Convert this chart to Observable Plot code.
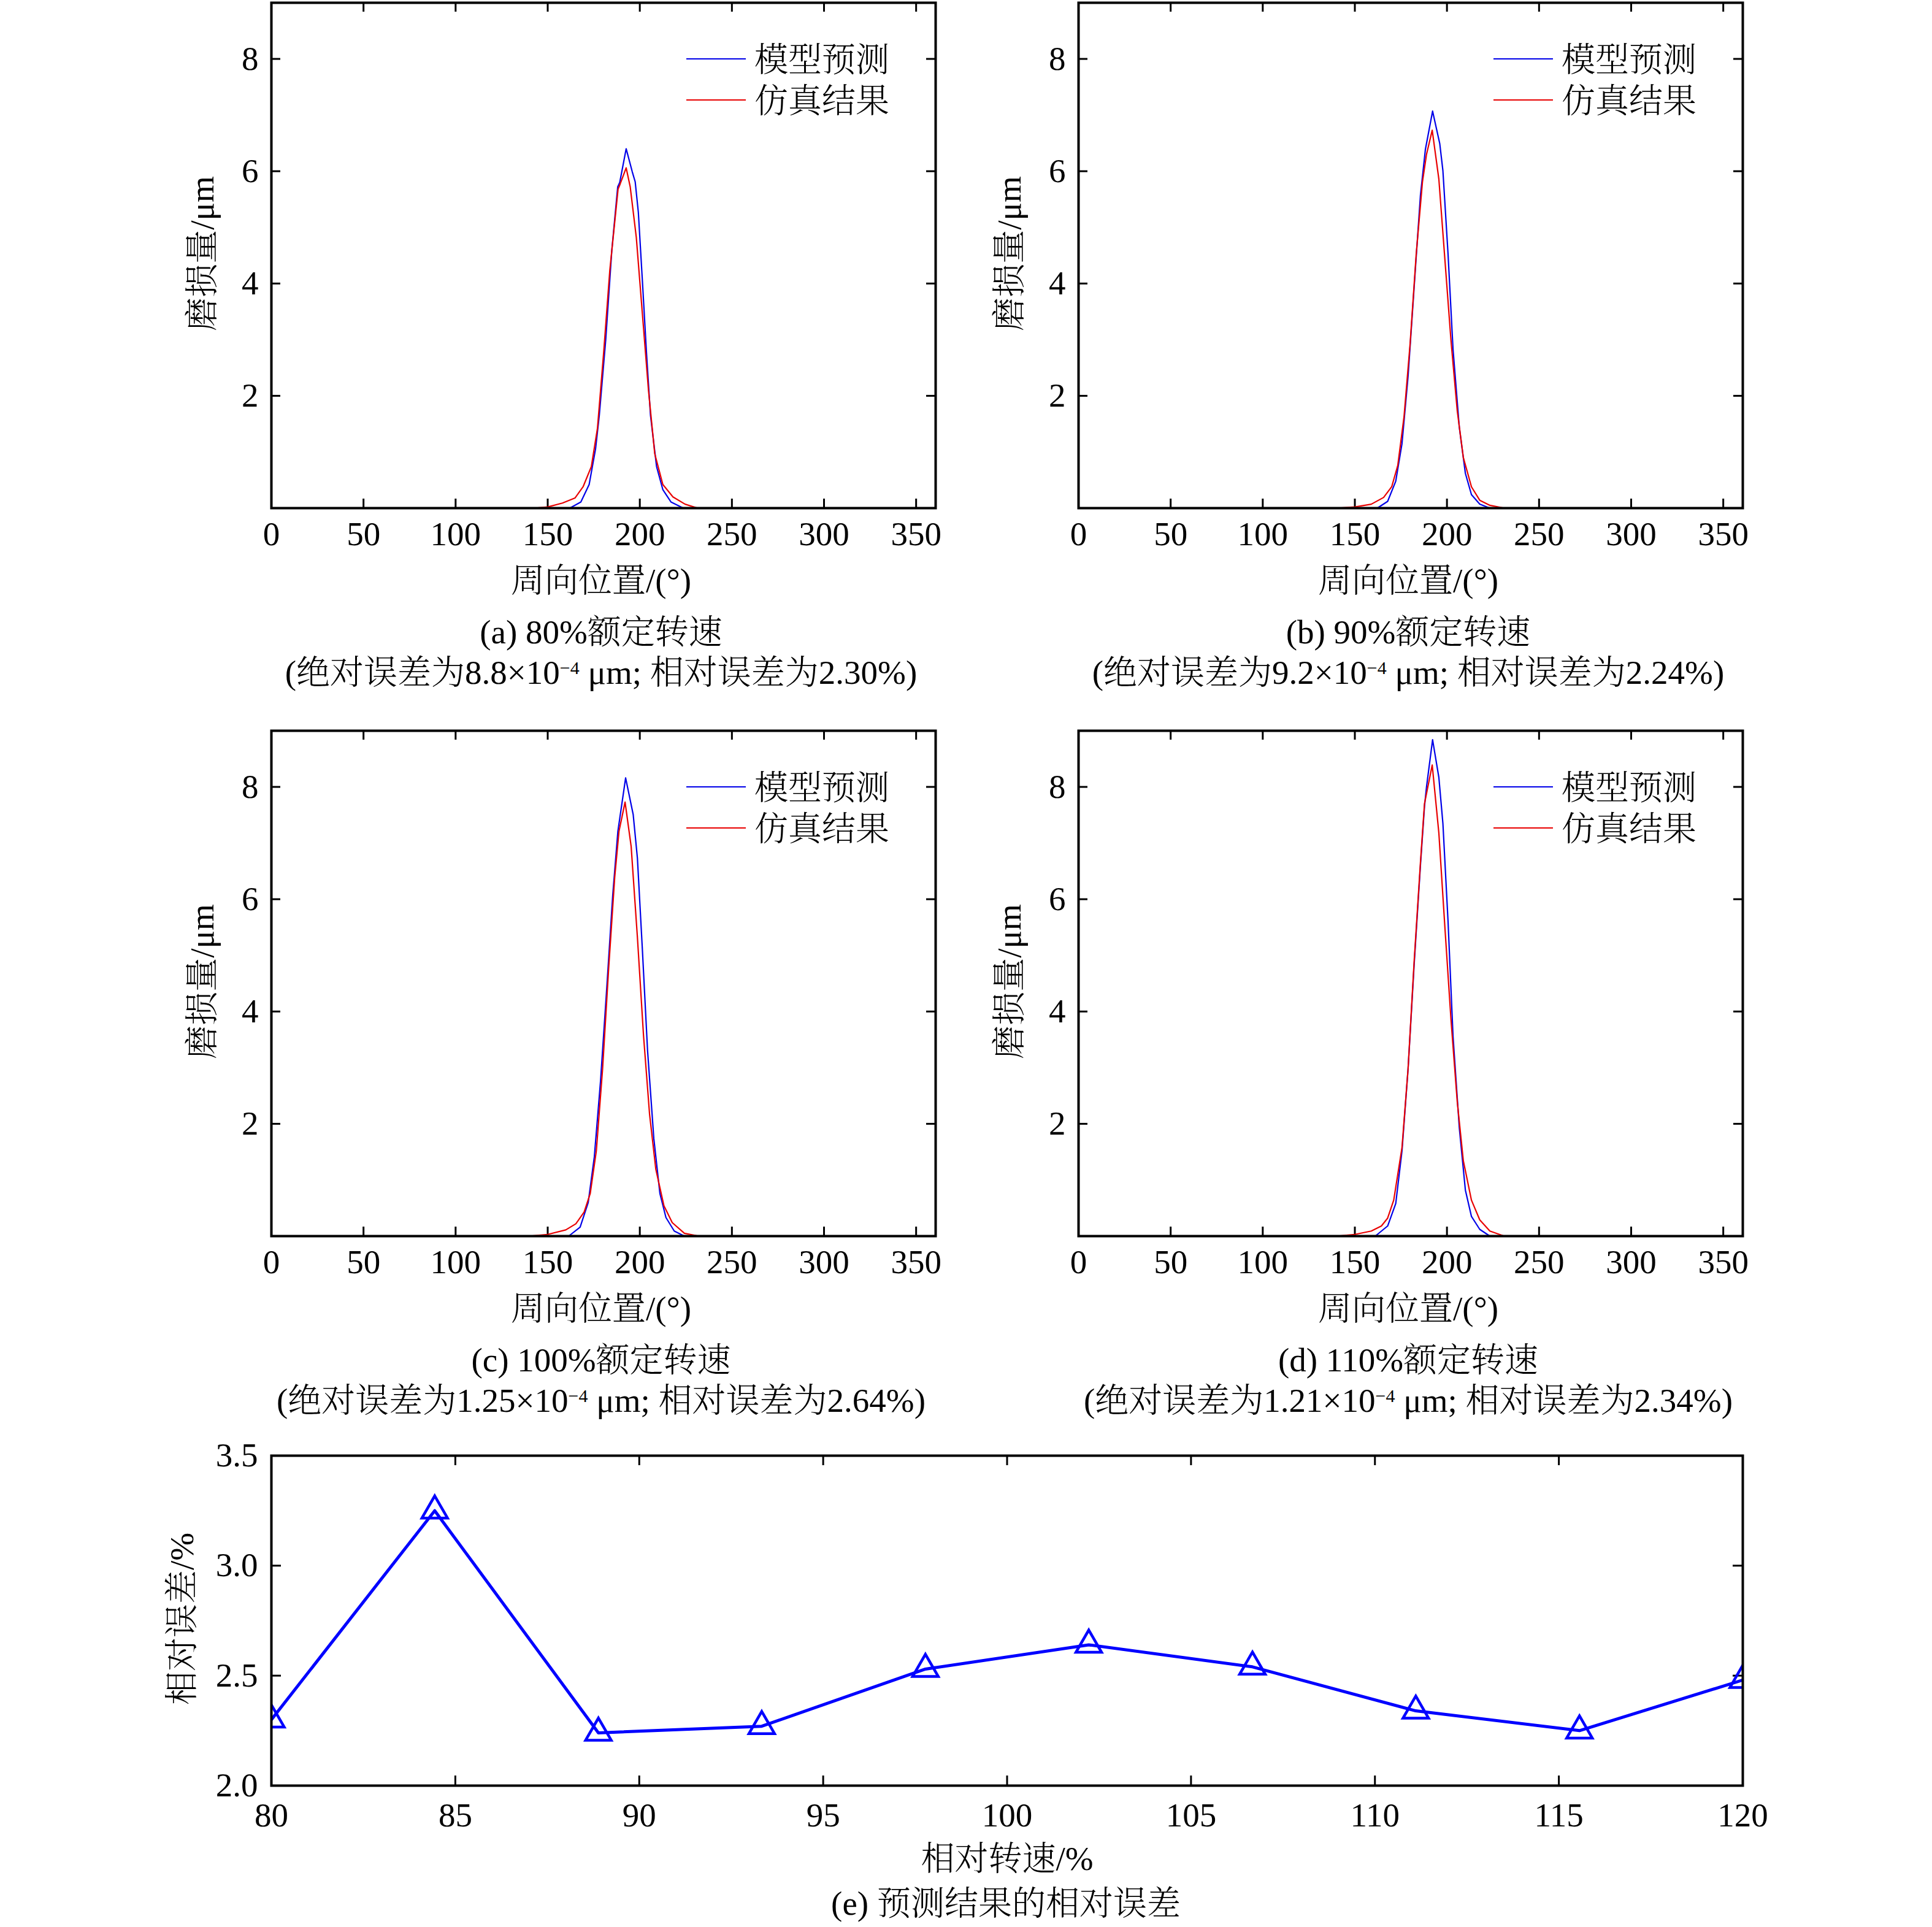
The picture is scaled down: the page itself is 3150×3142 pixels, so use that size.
<!DOCTYPE html>
<html>
<head>
<meta charset="utf-8">
<script src="https://cdn.jsdelivr.net/npm/d3@7"></script>
<script src="https://cdn.jsdelivr.net/npm/@observablehq/plot@0.6"></script>
<style>
  html, body { margin: 0; padding: 0; background: #fff; }
  #root { position: relative; width: 3150px; height: 3142px; overflow: hidden;
    font-family: "Liberation Serif", "Noto Serif CJK SC", "Noto Sans CJK SC", serif; font-weight: 300; color: #000; }
  .panel { position: absolute; }
  .cap { position: absolute; width: 1800px; height: 70px; line-height: 70px; text-align: center;
    font-size: 55px; white-space: nowrap; }
  .cap sup { font-size: 30px; position: relative; top: 12px; vertical-align: top; line-height: 1; }
</style>
</head>
<body>
<div id="root"></div>
<script>
// ---------------- data ----------------
// wear profiles: [circumferential position (deg), wear (um)]
const predA = [[162,0],[168,0.11],[172.5,0.42],[176,1.06],[178,1.65],[181.5,3.0],[184.8,4.59],[188,5.72],[189.1,5.8],[192.6,6.40],[195.9,5.99],[197.5,5.81],[199.2,5.27],[201.4,4.05],[203.6,2.78],[205.8,1.65],[209.1,0.74],[212.5,0.33],[216.9,0.11],[223.6,0]];
const simA  = [[142.5,0],[150,0.02],[158,0.09],[164.8,0.18],[169.2,0.38],[173.7,0.74],[177,1.42],[180.4,2.78],[183.7,4.23],[188.2,5.68],[189.3,5.77],[192.6,6.06],[194.8,5.72],[198.1,4.82],[201.4,3.46],[204.7,2.1],[208.1,0.97],[212.5,0.42],[218,0.2],[224.6,0.07],[231.4,0]];
const predB = [[162.2,0],[167.8,0.12],[172.2,0.48],[175.6,1.15],[178.9,2.35],[182.2,3.94],[185.6,5.57],[188.3,6.39],[192.2,7.07],[196.1,6.49],[197.8,6.01],[200.6,4.52],[203.3,2.83],[206.7,1.44],[210,0.62],[213.3,0.24],[217.8,0.07],[223.3,0]];
const simB  = [[140,0],[150,0.02],[158.9,0.07],[165.6,0.19],[170,0.38],[173.3,0.76],[176.7,1.63],[180,2.93],[183.3,4.52],[186.7,5.81],[188.9,6.30],[192,6.73],[195.6,5.86],[198.9,4.42],[202.2,2.98],[205.6,1.73],[208.9,0.90],[213.3,0.38],[217.8,0.14],[223.3,0.05],[231.1,0]];
const predC = [[161.4,0],[167.6,0.16],[172,0.60],[175.3,1.41],[178.7,2.77],[182,4.39],[185.3,6.07],[188.1,7.21],[192.3,8.16],[196.4,7.51],[198.7,6.73],[201.4,5.10],[204.2,3.31],[207.6,1.74],[210.9,0.76],[214.2,0.33],[218.7,0.09],[224.2,0]];
const simC  = [[139.8,0],[150,0.03],[159.8,0.11],[165.3,0.22],[169.8,0.43],[173.1,0.76],[176.4,1.52],[179.8,2.98],[183.1,4.77],[186.4,6.40],[188.7,7.21],[192,7.73],[195.3,6.94],[198.7,5.32],[202,3.58],[205.3,2.17],[208.7,1.19],[213.1,0.54],[217.6,0.24],[224.2,0.05],[232,0]];
const predD = [[161.1,0],[167.8,0.18],[172.2,0.58],[175.6,1.52],[178.9,2.98],[182.2,4.84],[185.6,6.60],[187.8,7.65],[188.9,8.0],[192.2,8.84],[195.6,8.17],[197.8,7.35],[200.6,5.60],[203.3,3.56],[206.7,1.93],[210,0.82],[213.3,0.35],[217.8,0.12],[223.3,0]];
const simD  = [[140,0],[150,0.03],[158.9,0.09],[164.4,0.18],[167.8,0.32],[171.1,0.64],[175.6,1.58],[178.9,2.98],[182.2,4.90],[185.6,6.65],[187.8,7.70],[192,8.39],[195.6,7.18],[198.9,5.49],[202.2,3.85],[205.6,2.39],[208.9,1.34],[213.3,0.64],[217.8,0.29],[223.3,0.09],[231.1,0]];

// relative error vs relative speed
const relSpeed = [80, 84.44, 88.89, 93.33, 97.78, 102.22, 106.67, 111.11, 115.56, 120];
const relError = [2.30, 3.25, 2.24, 2.27, 2.53, 2.64, 2.54, 2.34, 2.25, 2.48];

// ticks and labels
const wearXTicks = [0, 50, 100, 150, 200, 250, 300, 350];
const wearYTicks = [2, 4, 6, 8];
const errXTicks = [80, 85, 90, 95, 100, 105, 110, 115, 120];
const errYTicks = [2.0, 2.5, 3.0, 3.5];
const seriesNames = ["模型预测", "仿真结果"];
const wearXLabel = "周向位置/(°)";
const wearYLabel = "磨损量/μm";
const errXLabel = "相对转速/%";
const errYLabel = "相对误差/%";
const panelTitles = ["(a) 80%额定转速", "(b) 90%额定转速", "(c) 100%额定转速", "(d) 110%额定转速"];
const absErrMant = ["8.8", "9.2", "1.25", "1.21"];
const relErrText = ["2.30", "2.24", "2.64", "2.34"];
const errTitle = "(e) 预测结果的相对误差";

// ---------------- drawing ----------------
const FONT = '"Liberation Serif", "Noto Serif CJK SC", "Noto Sans CJK SC", serif';
const BLUE = "#0000e8", RED = "#e80000";
const root = document.getElementById("root");

function legendMark(colors) {
  return (index, scales, values, dimensions) => {
    const g = d3.create("svg:g");
    const right = dimensions.width - dimensions.marginRight;
    const top = dimensions.marginTop;
    seriesNames.forEach((name, i) => {
      const y = top + 92 + i * 67;
      g.append("line").attr("x1", right - 406).attr("x2", right - 309)
        .attr("y1", y).attr("y2", y).attr("stroke", colors[i]).attr("stroke-width", 2.2);
      g.append("text").attr("x", right - 295).attr("y", y).attr("dy", "0.36em")
        .attr("text-anchor", "start")
        .attr("fill", "black").style("font-size", "55px").text(name);
    });
    return g.node();
  };
}

function wearPanel(pred, sim, marginLeft, marginRight) {
  const plotW = 1083, plotH = 824, mT = 4, mB = 180;
  return Plot.plot({
    width: marginLeft + plotW + marginRight,
    height: mT + plotH + mB,
    marginLeft, marginRight, marginTop: mT, marginBottom: mB,
    style: { fontFamily: FONT, fontSize: "55px", fontWeight: 300, background: "transparent", overflow: "visible", color: "black" },
    x: { domain: [0, 360.6] },
    y: { domain: [0, 9] },
    marks: [
      Plot.ruleX(wearXTicks, { insetTop: plotH - 15, stroke: "black", strokeWidth: 3 }),
      Plot.ruleX(wearXTicks, { insetBottom: plotH - 15, stroke: "black", strokeWidth: 3 }),
      Plot.ruleY(wearYTicks, { insetRight: plotW - 15, stroke: "black", strokeWidth: 3 }),
      Plot.ruleY(wearYTicks, { insetLeft: plotW - 15, stroke: "black", strokeWidth: 3 }),
      Plot.line(pred, { x: d => d[0], y: d => d[1], stroke: BLUE, strokeWidth: 2.2 }),
      Plot.line(sim, { x: d => d[0], y: d => d[1], stroke: RED, strokeWidth: 2.2 }),
      Plot.frame({ stroke: "black", strokeWidth: 4 }),
      Plot.axisX(wearXTicks, { tickSize: 0, tickPadding: 21, label: null, fontSize: 55, tickFormat: d3.format("d") }),
      Plot.axisY(wearYTicks, { tickSize: 0, tickPadding: 21, label: null, fontSize: 55, tickFormat: d3.format("d") }),
      Plot.text([wearXLabel], { text: d => d, frameAnchor: "bottom", dy: 136, dx: -4, fontSize: 55 }),
      Plot.text([wearYLabel], { text: d => d, frameAnchor: "left", textAnchor: "middle", dx: -112, dy: -3, rotate: -90, fontSize: 55 }),
      legendMark([BLUE, RED])
    ]
  });
}

function place(node, left, top) {
  const div = document.createElement("div");
  div.className = "panel";
  div.style.left = left + "px";
  div.style.top = top + "px";
  div.appendChild(node);
  root.appendChild(div);
}

function caption(html, cx, cy) {
  const div = document.createElement("div");
  div.className = "cap";
  div.style.left = (cx - 900) + "px";
  div.style.top = (cy - 35) + "px";
  div.innerHTML = html;
  root.appendChild(div);
}

const panels = [
  { pred: predA, sim: simA, left: 0,    top: 0,    mL: 442, mR: 50,  cx: 980 },
  { pred: predB, sim: simB, left: 1575, top: 0,    mL: 183, mR: 309, cx: 2296 },
  { pred: predC, sim: simC, left: 0,    top: 1187, mL: 442, mR: 50,  cx: 980 },
  { pred: predD, sim: simD, left: 1575, top: 1187, mL: 183, mR: 309, cx: 2296 }
];
panels.forEach((p, i) => {
  place(wearPanel(p.pred, p.sim, p.mL, p.mR), p.left, p.top);
  caption(panelTitles[i], p.cx, p.top + 1031);
  caption(`(绝对误差为${absErrMant[i]}×10<sup>−4</sup> μm; 相对误差为${relErrText[i]}%)`, p.cx, p.top + 1097);
});

// relative error panel
const errData = relSpeed.map((s, i) => ({ speed: s, err: relError[i] }));
const eW = 2399, eH = 538, eT = 73, eB = 160;
const errPlot = Plot.plot({
  width: 3150, height: eT + eH + eB,
  marginLeft: 442, marginRight: 309, marginTop: eT, marginBottom: eB,
  style: { fontFamily: FONT, fontSize: "55px", fontWeight: 300, background: "transparent", overflow: "visible", color: "black" },
  x: { domain: [80, 120] },
  y: { domain: [2, 3.5] },
  marks: [
    Plot.ruleX(errXTicks, { insetTop: eH - 16, stroke: "black", strokeWidth: 3 }),
    Plot.ruleX(errXTicks, { insetBottom: eH - 16, stroke: "black", strokeWidth: 3 }),
    Plot.ruleY(errYTicks, { insetRight: eW - 16, stroke: "black", strokeWidth: 3 }),
    Plot.ruleY(errYTicks, { insetLeft: eW - 16, stroke: "black", strokeWidth: 3 }),
    Plot.line(errData, { x: "speed", y: "err", stroke: "#0000ff", strokeWidth: 5, clip: true }),
    Plot.dot(errData, { x: "speed", y: "err", symbol: "triangle", r: 15.5, stroke: "#0000ff", strokeWidth: 4.5, fill: "none", clip: true }),
    Plot.frame({ stroke: "black", strokeWidth: 4 }),
    Plot.axisX(errXTicks, { tickSize: 0, tickPadding: 27, label: null, fontSize: 55, tickFormat: d3.format("d") }),
    Plot.axisY(errYTicks, { tickSize: 0, tickPadding: 22, label: null, fontSize: 55, tickFormat: d3.format(".1f") }),
    Plot.text([errXLabel], { text: d => d, frameAnchor: "bottom", dy: 137, fontSize: 55 }),
    Plot.text([errYLabel], { text: d => d, frameAnchor: "left", textAnchor: "middle", dx: -145, dy: -3, rotate: -90, fontSize: 55 })
  ]
});
place(errPlot, 0, 2300);
caption(errTitle, 1640, 3104);
</script>
</body>
</html>
